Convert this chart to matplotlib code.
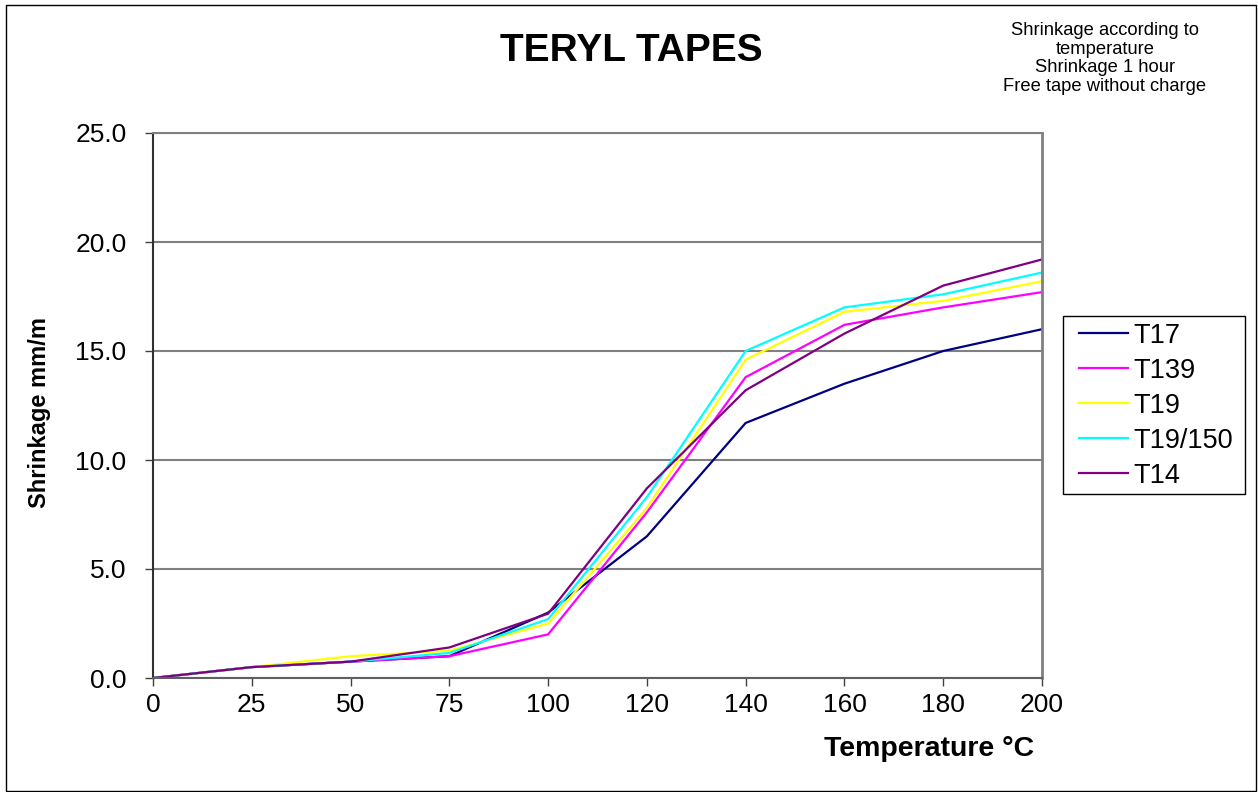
import matplotlib
matplotlib.use("Agg")
import matplotlib.pyplot as plt
from matplotlib.patches import Rectangle

plt.rcParams['font.family'] = ['Liberation Sans', 'DejaVu Sans']

temperatures = ["0", "25", "50", "75", "100", "120", "140", "160", "180", "200"]
series_names = ["T17", "T139", "T19", "T19/150", "T14"]
t17 = [0, 0.5, 0.75, 1.0, 3.0, 6.5, 11.7, 13.5, 15.0, 16.0]
t139 = [0, 0.5, 0.75, 1.0, 2.0, 7.6, 13.8, 16.2, 17.0, 17.7]
t19 = [0, 0.5, 1.0, 1.25, 2.5, 7.8, 14.6, 16.8, 17.3, 18.2]
t19_150 = [0, 0.5, 0.75, 1.15, 2.7, 8.3, 15.0, 17.0, 17.6, 18.6]
t14 = [0, 0.5, 0.75, 1.4, 2.95, 8.7, 13.2, 15.8, 18.0, 19.2]
colors = ["#000080", "#FF00FF", "#FFFF00", "#00FFFF", "#800080"]
y_ticks = [0, 5, 10, 15, 20, 25]

W, H = 1258, 792
fig = plt.figure(figsize=(W / 100, H / 100), dpi=100)
fig.patch.set_facecolor("white")
fig.add_artist(Rectangle((6 / W, 1 - 791 / H), 1250 / W, 786 / H, transform=fig.transFigure,
                         fill=False, edgecolor="black", linewidth=1.0))

ax = fig.add_axes([153 / W, 1 - 678 / H, (1042 - 153) / W, (678 - 133) / H])
x = list(range(len(temperatures)))
for vals, name, c in zip([t17, t139, t19, t19_150, t14], series_names, colors):
    ax.plot(x, vals, color=c, linewidth=1.6, label=name, solid_joinstyle="miter")

ax.set_xlim(0, len(temperatures) - 1)
ax.set_ylim(0, 25)
ax.set_xticks(x)
ax.set_xticklabels(temperatures, fontsize=19)
ax.set_yticks(y_ticks)
ax.set_yticklabels([f"{v:.1f}" for v in y_ticks], fontsize=19)
ax.tick_params(axis="y", direction="out", length=6, width=1.0, color="#404040", pad=13)
ax.tick_params(axis="x", direction="out", length=6, width=1.0, color="#404040", pad=5)
ax.grid(axis="y", color="#808080", linewidth=1.5)
ax.set_axisbelow(True)
ax.spines["left"].set_color("#303030")
ax.spines["left"].set_linewidth(1.5)
ax.spines["bottom"].set_color("#606060")
ax.spines["bottom"].set_linewidth(1.5)
ax.spines["right"].set_color("#808080")
ax.spines["right"].set_linewidth(2)
ax.spines["top"].set_color("#808080")
ax.spines["top"].set_linewidth(1.5)

fig.text(631 / W, 1 - 51 / H, "TERYL TAPES", fontsize=28, fontweight="bold",
         ha="center", va="center")
fig.text(1105 / W, 1 - 58.5 / H,
         "Shrinkage according to\ntemperature\nShrinkage 1 hour\nFree tape without charge",
         fontsize=13.2, ha="center", va="center", linespacing=1.12)
fig.text(929 / W, 1 - 749 / H, "Temperature °C", fontsize=20.5, fontweight="bold",
         ha="center", va="center")
fig.text(40 / W, 1 - 412 / H, "Shrinkage mm/m", fontsize=17, fontweight="bold",
         ha="center", va="center", rotation=90)

# legend frame
fig.add_artist(Rectangle((1063 / W, 1 - 494 / H), 182 / W, 178 / H, transform=fig.transFigure,
                         fill=False, edgecolor="black", linewidth=1.0))
leg = ax.legend(loc="upper left", bbox_to_anchor=(1072 / W, 1 - 316 / H),
                bbox_transform=fig.transFigure, fontsize=19.5, frameon=False,
                handlelength=1.8, handletextpad=0.2, labelspacing=0.33,
                borderpad=0.25, borderaxespad=0)
for line in leg.get_lines():
    line.set_linewidth(1.6)

fig.savefig("out.png", dpi=100, facecolor="white")
